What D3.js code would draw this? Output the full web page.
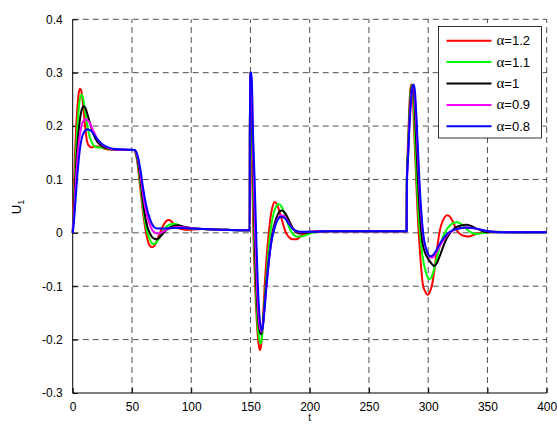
<!DOCTYPE html>
<html>
<head>
<meta charset="utf-8">
<script src="https://d3js.org/d3.v7.min.js"></script>
<style>
    body { margin: 0; background: #fff; }
    svg { display: block; font-family: "Liberation Sans", Arial, sans-serif; }
</style>
</head>
<body>
<svg id="chart" width="557" height="426"></svg>
<script>
// tick values
const xTicks = [0, 50, 100, 150, 200, 250, 300, 350, 400];
const yTicks = [-0.3, -0.2, -0.1, 0, 0.1, 0.2, 0.3, 0.4];

// legend labels
const labels = ["1.2", "1.1", "1", "0.9", "0.8"];
const colors = ["#ff0000", "#00ff00", "#000000", "#ff00ff", "#0000ff"];

// shared tails
const flat1 = [[110, .007], [125, .006], [140, .005], [149.4, .005]];
const flat2 = [[215, .003], [240, .003], [260, .003], [281.8, .003]];
const flat3 = [[370, .001], [385, .001], [400, .001]];

// alpha = 1.2
const alpha12 = [
    [0, 0], [1, .08], [2, .15], [3, .2], [4, .235], [5, .26], [6, .27], [7, .268], [8, .255], [9, .235],
    [10, .21], [11, .19], [12, .172], [14, .162], [16, .16], [19, .162], [23, .161], [28, .157], [35, .155], [52, .155],
    [53, .15], [55, .125], [57, .085], [59, .045], [61, .012], [63, -.012], [65, -.024], [67, -.027], [69, -.024], [71, -.015],
    [73, -.004], [75, .007], [77, .016], [79, .022], [81, .024], [83, .022], [85, .017], [87, .012], [90, .008], [95, .006], [100, .006],
    ...flat1,
    [149.6, .3], [150.2, .3], [150.8, .2], [151.5, .1], [152.5, 0], [154, -.1], [155.5, -.17], [157, -.21], [158, -.22], [159, -.21],
    [160, -.185], [161, -.145], [162, -.1], [163.5, -.05], [165.5, 0], [167, .03], [168.5, .048], [170.5, .058], [173, .05], [176, .028],
    [180, 0], [183, -.009], [186, -.012], [189, -.012], [192, -.007], [196, -.001], [200, .002], [205, .003], [210, .003],
    ...flat2,
    [282, .1], [283, .17], [284, .23], [285, .27], [285.8, .278], [286.8, .27], [288, .2], [289.5, .12], [291, .04], [292, 0],
    [293.5, -.05], [295.5, -.097], [297.5, -.11], [299.5, -.116], [301.5, -.11], [303.5, -.095], [305.5, -.065], [307.5, -.03], [309.5, .001],
    [311.5, .018], [313.5, .028], [316, .033], [318.5, .03], [321, .02], [323, .01], [325, .002], [328, -.004], [331, -.006], [334.5, -.007],
    [338, -.004], [342, -.001], [348, .001], [355, .002],
    ...flat3
];

// alpha = 1.1
const alpha11 = [
    [0, 0], [1, .05], [2, .11], [3, .16], [4, .2], [5, .23], [6, .25], [7, .258], [8, .258], [9, .25],
    [10, .235], [11, .22], [12, .205], [14, .183], [16, .17], [18, .163], [21, .16], [25, .16], [30, .157], [35, .155], [52, .155],
    [53, .151], [55, .13], [57, .095], [59, .055], [61, .022], [63, 0], [65, -.012], [67, -.02], [69, -.021], [71, -.017],
    [73, -.01], [75, -.002], [77, .006], [80, .013], [83, .016], [86, .017], [89, .015], [93, .011], [100, .008],
    ...flat1,
    [149.6, .3], [150.4, .3], [151.2, .2], [152, .1], [153, 0], [154.5, -.1], [156, -.17], [157.5, -.2], [158.5, -.207], [159.5, -.2],
    [160.5, -.175], [162, -.125], [163.5, -.08], [165, -.04], [166.5, -.005], [168, .02], [170, .04], [172, .051], [174, .054], [176, .05],
    [178, .04], [180, .027], [182, .014], [184, .004], [186, -.003], [189, -.007], [193, -.007], [197, -.004], [202, 0], [208, .002],
    ...flat2,
    [282, .1], [283, .16], [284, .22], [285, .26], [286, .277], [287, .275], [288, .24], [289, .17], [290.5, .09], [292, .03],
    [293.5, -.01], [295, -.04], [297, -.065], [299, -.08], [301, -.087], [303, -.082], [305, -.068], [307, -.05], [309, -.032],
    [311, -.017], [313, -.005], [315, .004], [318, .013], [321, .018], [324, .02], [327, .018], [330, .012], [333, .006], [336, .001],
    [340, -.002], [345, -.001], [350, .001], [360, .002],
    ...flat3
];

// alpha = 1
const alpha1 = [
    [0, 0], [1, .04], [2, .09], [3, .13], [4, .165], [5, .19], [6, .21], [7, .225], [8, .233], [9, .237],
    [10, .236], [11, .232], [12, .225], [14, .21], [16, .195], [18, .182], [21, .17], [25, .162], [30, .158], [35, .156], [52, .155],
    [53, .152], [55, .135], [57, .103], [59, .065], [61, .033], [63, .012], [65, 0], [67, -.008], [69, -.011], [71, -.012],
    [73, -.009], [75, -.004], [78, .003], [81, .009], [85, .013], [89, .014], [93, .012], [100, .009],
    ...flat1,
    [149.6, .3], [150.5, .3], [151.5, .2], [152.5, .1], [153.5, 0], [155, -.1], [156.5, -.16], [158, -.186], [159, -.19], [160, -.18],
    [161.5, -.145], [163, -.105], [164.5, -.07], [166, -.04], [167.5, -.015], [169, .005], [171, .022], [173, .034], [175, .041], [177, .042],
    [179, .038], [181, .03], [183, .021], [185, .012], [187, .005], [189, .001], [192, -.001], [196, 0], [205, .002],
    ...flat2,
    [282, .1], [283, .15], [284, .21], [285, .25], [286, .272], [287, .277], [288, .265], [289, .22], [290.5, .14], [292, .07],
    [293.5, .02], [295, -.015], [297, -.035], [299, -.045], [301, -.052], [303, -.058], [305, -.062], [307, -.058], [309, -.048],
    [311, -.036], [313, -.024], [315, -.013], [318, -.002], [321, .006], [324, .011], [328, .014], [332, .015], [336, .013], [340, .009],
    [345, .004], [350, .001], [360, .001],
    ...flat3
];

// alpha = 0.9
const alpha09 = [
    [0, 0], [1, .03], [2, .07], [3, .11], [4, .14], [5, .165], [6, .183], [7, .196], [8, .205], [10, .212],
    [11, .213], [12, .212], [14, .207], [16, .198], [18, .188], [21, .175], [25, .165], [30, .159], [35, .156], [52, .155],
    [53, .153], [55, .14], [57, .112], [59, .078], [61, .05], [63, .03], [65, .016], [67, .006], [69, .001], [71, -.001],
    [73, -.001], [76, .002], [80, .007], [85, .01], [90, .011], [95, .01], [100, .009],
    ...flat1,
    [149.6, .3], [150.7, .3], [151.8, .2], [152.8, .1], [154, 0], [155.5, -.1], [157, -.16], [158.5, -.182], [159.5, -.185], [160.5, -.175],
    [162, -.14], [163.5, -.1], [165, -.065], [166.5, -.035], [168, -.012], [170, .008], [172, .022], [174, .03], [176, .033], [178, .032],
    [180, .027], [182, .02], [185, .01], [188, .004], [192, .001], [200, .002],
    ...flat2,
    [282, .09], [283, .145], [284, .2], [285, .24], [286, .265], [287, .277], [288, .272], [289, .245], [290, .2], [291.5, .13],
    [293, .065], [294.5, .02], [296, -.01], [298, -.03], [300, -.041], [302, -.046], [304, -.046], [306, -.04], [308, -.032], [310, -.024],
    [313, -.013], [316, -.004], [320, .003], [324, .007], [328, .009], [332, .01], [337, .009], [342, .007], [348, .004], [355, .002],
    [365, .001],
    ...flat3
];

// alpha = 0.8
const alpha08 = [
    [0, 0], [1, .02], [2, .05], [3, .08], [4, .11], [5, .135], [6, .155], [7, .17], [8, .18], [10, .19],
    [12, .194], [14, .193], [16, .19], [18, .184], [21, .175], [25, .166], [30, .16], [35, .157], [52, .155],
    [53, .154], [55, .143], [57, .12], [59, .09], [61, .063], [63, .042], [65, .027], [67, .016], [69, .01], [72, .008],
    [78, .008], [85, .009], [92, .009], [100, .008],
    ...flat1,
    [149.6, .3], [151, .3], [152, .2], [153.5, .1], [154.8, 0], [156.3, -.1], [157.8, -.16], [159.4, -.183], [160.5, -.175],
    [162, -.14], [163.5, -.1], [165, -.065], [166.5, -.035], [168, -.012], [170, .006], [172, .02], [174, .028], [176, .03], [178, .029],
    [180, .025], [182, .018], [185, .009], [188, .004], [192, .002], [200, .002],
    ...flat2,
    [282, .09], [283, .14], [284, .19], [285, .23], [286, .26], [287, .275], [288, .278], [289, .26], [290, .22], [291.5, .15],
    [293, .08], [294.5, .03], [296, -.005], [298, -.028], [300, -.04], [302, -.044], [304, -.042], [306, -.036], [308, -.028], [310, -.02],
    [313, -.01], [316, -.002], [320, .004], [324, .007], [328, .009], [332, .01], [337, .009], [342, .007], [348, .004], [355, .002],
    [365, .001],
    ...flat3
];

const series = [alpha12, alpha11, alpha1, alpha09, alpha08];

const svg = d3.select("#chart");
const x = d3.scaleLinear().domain([0, 400]).range([72.7, 546.7]);
const y = d3.scaleLinear().domain([-0.3, 0.4]).range([393, 19.3]);

// grid
const grid = svg.append("g")
    .attr("stroke", "#222")
    .attr("stroke-width", 0.8)
    .attr("stroke-dasharray", "6,4");
grid.selectAll(".vg").data(xTicks.slice(1)).enter().append("line")
    .attr("x1", d => x(d)).attr("x2", d => x(d))
    .attr("y1", y(-0.3)).attr("y2", y(0.4));
grid.selectAll(".hg").data(yTicks.slice(1)).enter().append("line")
    .attr("x1", x(0)).attr("x2", x(400))
    .attr("y1", d => y(d)).attr("y2", d => y(d));

// axes (inward ticks, left + bottom only)
const xAxis = d3.axisBottom(x).tickValues(xTicks).tickSize(-5).tickPadding(9).tickFormat(d3.format("d"));
const yAxis = d3.axisLeft(y).tickValues(yTicks).tickSize(-5).tickPadding(10).tickFormat(d => d === 0 ? "0" : d.toFixed(1));

svg.append("g").attr("transform", `translate(0,${y(-0.3)})`).call(xAxis)
    .call(g => g.select(".domain").attr("d", `M${x(0)},0H${x(400)}`));
svg.append("g").attr("transform", `translate(${x(0)},0)`).call(yAxis)
    .call(g => g.select(".domain").attr("d", `M0,${y(0.4)}V${y(-0.3)}`));

svg.selectAll(".tick text")
    .attr("font-size", 12)
    .attr("font-family", "Liberation Sans, Arial, sans-serif")
    .attr("fill", "#000");
svg.selectAll(".domain, .tick line").attr("stroke", "#000");

// curves
const line = d3.line()
    .x(d => x(d[0]))
    .y(d => y(d[1]))
    .curve(d3.curveMonotoneX);

svg.append("g").selectAll("path").data(series).enter().append("path")
    .attr("d", line)
    .attr("fill", "none")
    .attr("stroke", (d, i) => colors[i])
    .attr("stroke-width", 2)
    .attr("stroke-linejoin", "round");

// axis labels
svg.append("text")
    .attr("x", x(200)).attr("y", 421)
    .attr("text-anchor", "middle")
    .attr("font-size", 10)
    .text("t");

const yl = svg.append("text")
    .attr("transform", "translate(21,207) rotate(-90)")
    .attr("text-anchor", "middle")
    .attr("font-size", 13);
yl.append("tspan").text("U");
yl.append("tspan").attr("font-size", 9).attr("dy", 3).text("1");

// legend
const lg = svg.append("g");
lg.append("rect")
    .attr("x", 438.5).attr("y", 26.5)
    .attr("width", 103).attr("height", 111.5)
    .attr("fill", "#fff").attr("stroke", "#000").attr("stroke-width", 0.8);

labels.forEach((lab, i) => {
    const ly = 40.7 + i * 21.4;
    lg.append("line")
        .attr("x1", 446.5).attr("x2", 491.5)
        .attr("y1", ly).attr("y2", ly)
        .attr("stroke", colors[i]).attr("stroke-width", 2);
    const t = lg.append("text")
        .attr("x", 496.5).attr("y", ly + 4.5)
        .attr("font-size", 13);
    t.append("tspan").attr("font-family", "Liberation Serif, Times New Roman, serif").attr("font-size", 15).text("α");
    t.append("tspan").text("=" + lab);
});
</script>
</body>
</html>
